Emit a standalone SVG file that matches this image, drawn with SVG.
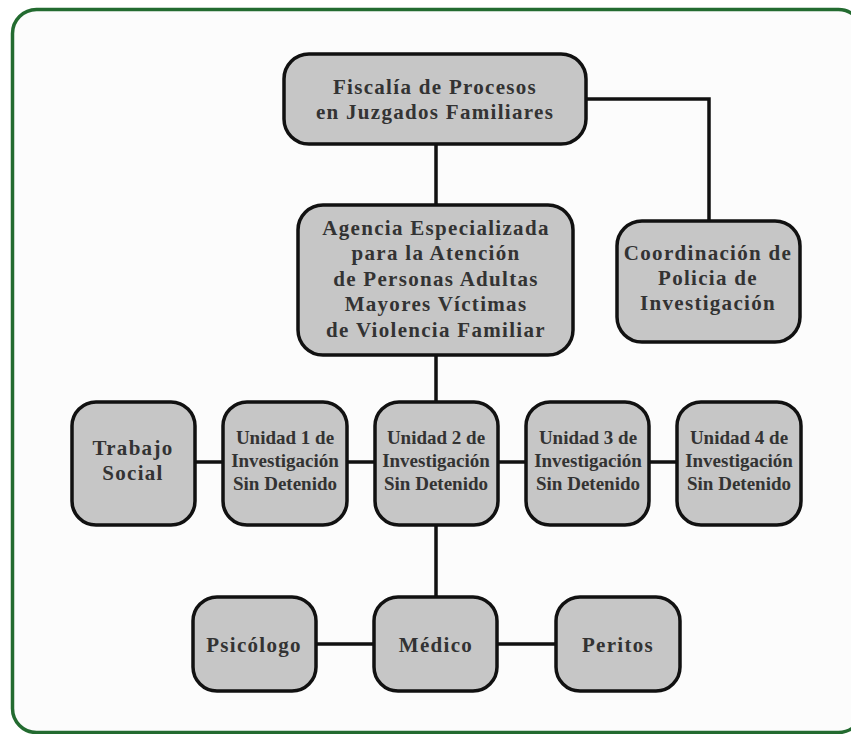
<svg xmlns="http://www.w3.org/2000/svg" width="851" height="734" viewBox="0 0 851 734">
<style>
.box{fill:#c6c6c6;stroke:#111;stroke-width:3.5}
.t{font-family:"Liberation Serif","DejaVu Serif",serif;font-weight:bold;fill:#333;text-anchor:middle}
.big{font-size:21px;letter-spacing:1.3px}
.sm{font-size:19px}
.ln{stroke:#111;stroke-width:3.5;fill:none}
</style>
<rect x="0" y="0" width="851" height="734" fill="#fff"/>
<rect x="12.5" y="9.5" width="850" height="723" rx="24" fill="#fcfcfc" stroke="#236b30" stroke-width="3.5"/>
<g id="connectors">
<path class="ln" d="M586 99H709V221"/>
<path class="ln" d="M436 144V205"/>
<path class="ln" d="M436 355V402"/>
<path class="ln" d="M436 525V597"/>
<path class="ln" d="M195 462H223M347 462H375M498 462H526M649 462H677"/>
<path class="ln" d="M316 644H374M497 644H556"/>
</g>
<g id="fiscalia">
<rect class="box" x="284" y="54" width="302" height="90" rx="25"/>
<text class="t big" x="435" y="94">Fiscalía de Procesos</text>
<text class="t big" x="435" y="119">en Juzgados Familiares</text>
</g>
<g id="agencia">
<rect class="box" x="298" y="205" width="275" height="150" rx="25"/>
<text class="t big" x="436" y="235">Agencia Especializada</text>
<text class="t big" x="436" y="260">para la Atención</text>
<text class="t big" x="436" y="286">de Personas Adultas</text>
<text class="t big" x="436" y="311">Mayores Víctimas</text>
<text class="t big" x="436" y="337">de Violencia Familiar</text>
</g>
<g id="coordinacion">
<rect class="box" x="617" y="221" width="183" height="121" rx="25"/>
<text class="t big" x="708" y="260">Coordinación de</text>
<text class="t big" x="708" y="285">Policia de</text>
<text class="t big" x="708" y="310">Investigación</text>
</g>
<g id="trabajo-social">
<rect class="box" x="72" y="402" width="123" height="123" rx="24"/>
<text class="t big" x="133" y="455">Trabajo</text>
<text class="t big" x="133" y="480">Social</text>
</g>
<g id="unidad1">
<rect class="box" x="223" y="402" width="124" height="123" rx="24"/>
<text class="t sm" x="285" y="444">Unidad 1 de</text>
<text class="t sm" x="285" y="467">Investigación</text>
<text class="t sm" x="285" y="490">Sin Detenido</text>
</g>
<g id="unidad2">
<rect class="box" x="375" y="402" width="123" height="123" rx="24"/>
<text class="t sm" x="436" y="444">Unidad 2 de</text>
<text class="t sm" x="436" y="467">Investigación</text>
<text class="t sm" x="436" y="490">Sin Detenido</text>
</g>
<g id="unidad3">
<rect class="box" x="526" y="402" width="123" height="123" rx="24"/>
<text class="t sm" x="588" y="444">Unidad 3 de</text>
<text class="t sm" x="588" y="467">Investigación</text>
<text class="t sm" x="588" y="490">Sin Detenido</text>
</g>
<g id="unidad4">
<rect class="box" x="677" y="402" width="124" height="123" rx="24"/>
<text class="t sm" x="739" y="444">Unidad 4 de</text>
<text class="t sm" x="739" y="467">Investigación</text>
<text class="t sm" x="739" y="490">Sin Detenido</text>
</g>
<g id="psicologo">
<rect class="box" x="193" y="597" width="123" height="94" rx="24"/>
<text class="t big" x="254" y="652">Psicólogo</text>
</g>
<g id="medico">
<rect class="box" x="374" y="597" width="123" height="94" rx="24"/>
<text class="t big" x="436" y="652">Médico</text>
</g>
<g id="peritos">
<rect class="box" x="556" y="597" width="124" height="94" rx="24"/>
<text class="t big" x="618" y="652">Peritos</text>
</g>
</svg>
